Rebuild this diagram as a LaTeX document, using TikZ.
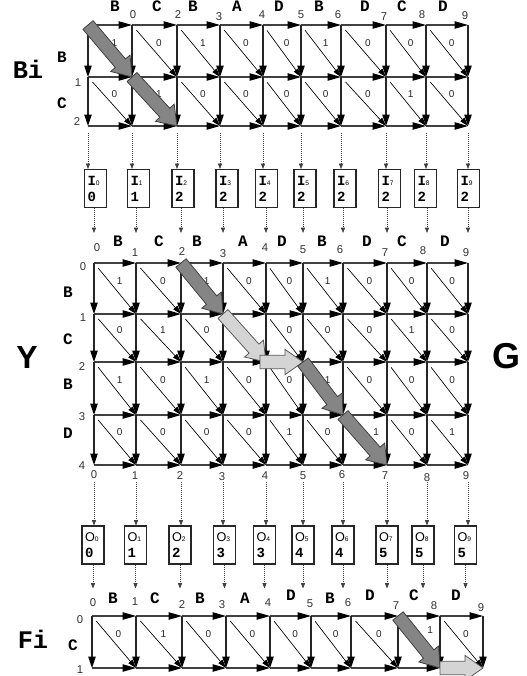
\documentclass[tikz,border=0pt]{standalone}
\usepackage{fontspec}
\setmainfont{Liberation Sans}
\newfontfamily\cour{Liberation Mono}
\usetikzlibrary{arrows.meta,calc}
\newcommand\bxfont{\cour\bfseries\fontsize{10.5}{12}\selectfont}
\newcommand\sbfont{\normalfont\mdseries\fontsize{5}{5}\selectfont}
\newcommand\ofont{\normalfont\fontsize{9.5}{12}\selectfont}
\newcommand\fatarrow[3]{%
  \coordinate (fa-n) at ($(#2)!13.5pt!(#1)$);
  \filldraw[#3] ($(#1)!5pt!90:(#2)$) -- ($(fa-n)!5pt!-90:(#1)$) -- ($(fa-n)!9.5pt!-90:(#1)$) -- (#2) -- ($(fa-n)!9.5pt!90:(#1)$) -- ($(fa-n)!5pt!90:(#1)$) -- ($(#1)!5pt!-90:(#2)$) -- cycle;}
\newcommand\gridedges[2]{%
  \foreach \i in {0,...,8} {\pgfmathtruncatemacro\n{\i+1}
    \foreach \j in {0,...,#2} \draw[hedge] (#1-\i-\j) -- (#1-\n-\j);}
  \foreach \i in {0,...,9} \foreach \j in {1,...,#2} {\pgfmathtruncatemacro\m{\j-1}
    \draw[vedge] (#1-\i-\m) -- (#1-\i-\j);}}
\newcommand\diagrow[3]{%
  \foreach \lab/\dx/\dy [count=\c from 0] in {#3} {\pgfmathtruncatemacro\n{\c+1}\pgfmathtruncatemacro\r{#2+1}
    \draw[dedge] (#1-\c-#2) -- node[elab,pos=0.45,xshift={(5+\dx)*1pt},yshift={(4+\dy)*1pt}] (lab-#1-\c-#2) {\lab} (#1-\n-\r);}}
\begin{document}
\begin{tikzpicture}[x=0.75pt,y=-0.75pt,
  hedge/.style={draw=black!75, line width=0.9pt, -{Triangle[length=10pt,width=5.5pt,color=black]}},
  vedge/.style={draw=black!85, line width=0.9pt, -{Triangle[length=8.5pt,width=5.5pt,color=black]}},
  dedge/.style={draw=black, line width=0.5pt, shorten <=5pt, -{Triangle[length=6.5pt,width=4pt,color=black]}},
  elab/.style={font=\fontsize{7.5}{8}\selectfont, inner sep=0pt, text=black!85},
  num/.style={font=\fontsize{8.5}{9}\selectfont, inner sep=0pt, text=black!80},
  seqlet/.style={font=\cour\bfseries\fontsize{12}{12}\selectfont, inner sep=0pt},
  bigsans/.style={font=\bfseries\fontsize{24}{24}\selectfont, inner sep=0pt},
  bigmono/.style={font=\cour\bfseries\fontsize{19}{19}\selectfont, inner sep=0pt},
  dotarr/.style={draw=black!75, line width=0.5pt, dash pattern=on 0.6pt off 0.9pt, -{Triangle[length=4pt,width=3pt]}},
  ibox/.style={draw=black!85, line width=0.8pt, minimum width=16.5pt, minimum height=28.5pt, text width=12pt, inner xsep=2.25pt, inner ysep=0pt, align=left, font=\fontsize{10.5}{12}\selectfont},
  darkarr/.style={fill=black!48, draw=black!75, line width=0.6pt},
  lightarr/.style={fill=black!17, draw=black!65, line width=0.6pt}]
\useasboundingbox (0,0) rectangle (526,676);

% grid points
\foreach \x [count=\i from 0] in {88,132,177,220,263,301,341,386,426,468}
  \foreach \y [count=\j from 0] in {25,77,126}
    \coordinate (T-\i-\j) at (\x,\y);
\foreach \x [count=\i from 0] in {94,136,181,223,266,303,343,387,427,468}
  \foreach \y [count=\j from 0] in {263,314,362,415,465}
    \coordinate (M-\i-\j) at (\x,\y);
\foreach \x [count=\i from 0] in {92,136,182,226,270,311,351,398,440,483}
  \foreach \y [count=\j from 0] in {616,668}
    \coordinate (F-\i-\j) at (\x,\y);

% diagonals
\diagrow{T}{0}{1/0/0,0/0/0,1/0/0,0/0/0,0/0/0,1/0/0,0/0/0,0/0/0,0/0/0}
\diagrow{T}{1}{0/0/0,1/0/0,0/0/0,0/0/0,0/0/0,0/0/0,0/0/0,1/0/0,0/0/0}
\diagrow{M}{0}{1/0/0,0/0/0,1/0/0,0/0/0,0/0/0,1/0/0,0/0/0,0/0/0,0/0/0}
\diagrow{M}{1}{0/0/0,1/0/0,0/0/0,{}/0/0,0/0/0,0/0/0,0/0/0,1/0/0,0/0/0}
\diagrow{M}{2}{1/0/0,0/0/0,1/0/0,0/0/0,0/0/0,1/0/0,0/0/0,0/0/0,0/0/0}
\diagrow{M}{3}{0/0/0,0/0/0,0/0/0,0/0/0,1/0/0,0/0/0,1/5/0,0/0/0,1/0/0}
\diagrow{F}{0}{0/0/0,1/0/0,0/0/0,0/0/0,0/0/0,0/0/0,0/0/0,1/5/3,0/0/0}

% horizontal and vertical edges
\gridedges{T}{2}
\gridedges{M}{4}
\gridedges{F}{1}

% boxes
\foreach \x/\v [count=\i from 0] in {95.5/0,138.5/1,183/2,227/2,266.5/2,305/2,345/2,389.5/2,425.5/2,468.5/2}
  \node[ibox] (I\i) at (\x,188.5) {{\bxfont I}{\sbfont\i}\\{\bxfont\v}};
\foreach \x/\v [count=\i from 0] in {93/0,135.5/1,180/2,224.5/3,264.5/3,303/4,343/4,387/5,423/5,465.5/5}
  \node[ibox] (O\i) at (\x,545) {{\ofont O}{\sbfont\i}\\{\bxfont\v}};

% dotted connectors
\foreach \i in {0,...,9} {
  \draw[dotarr] ([yshift=-5pt]T-\i-2) -- (T-\i-2 |- I\i.north);
  \coordinate (min\i) at ($(M-\i-0)+(0,-30)$);
  \draw[dotarr] (M-\i-0 |- I\i.south) -- (min\i);
  \coordinate (mout\i) at ($(M-\i-4)+(0,17)$);
  \draw[dotarr] (mout\i) -- (M-\i-4 |- O\i.north);
  \coordinate (fe\i) at ($(O\i.south)+(0,24)$);
  \draw[dotarr] (O\i.south) -- (fe\i);
}

% sequence letters
\foreach \t/\x [count=\k] in {B/115,C/157,B/193,A/237,D/279,B/319,D/365,C/402,D/443}
  \node[seqlet] (tl\k) at (\x,6) {\t};
\foreach \t/\x [count=\k] in {B/118,C/159,B/197,A/243,D/282,B/322,D/367,C/402,D/445}
  \node[seqlet] (ml\k) at (\x,241) {\t};
\foreach \t/\x/\y [count=\k] in {B/113/598,C/155/598,B/200/598,A/245/598,D/291/595,B/330/598,D/370/595,C/414/595,D/456/595}
  \node[seqlet] (fl\k) at (\x,\y) {\t};
\foreach \t/\x/\y [count=\k] in {B/62/57,C/62/103}
  \node[seqlet] (tr\k) at (\x,\y) {\t};
\foreach \t/\x/\y [count=\k] in {B/68/292,C/68/339,B/68/384,D/68/433}
  \node[seqlet] (mr\k) at (\x,\y) {\t};
\node[seqlet] (fr1) at (73,645) {C};

% index numbers
\foreach \t/\x/\y [count=\k] in {0/133/15,2/178/15,3/219/17,4/262/15,5/301/15,6/338/15,7/384/17,8/422/15,9/465/16}
  \node[num] (tn\k) at (\x,\y) {\t};
\foreach \t/\x/\y [count=\k] in {1/78/83,2/77/122}
  \node[num] (tv\k) at (\x,\y) {\t};
\foreach \t/\x/\y [count=\k] in {0/97/248,1/135/253,2/182/252,3/223/254,4/265/248,5/303/250,6/340/250,7/385/253,8/423/251,9/466/253}
  \node[num] (mn\k) at (\x,\y) {\t};
\foreach \t/\x/\y [count=\k] in {0/83/267,1/83/318,2/82/367,3/82/417,4/82/466}
  \node[num] (mv\k) at (\x,\y) {\t};
\foreach \t/\x/\y [count=\k] in {0/94/475,1/135/476,2/180/476,3/222/477,4/265/476,5/303/476,6/342/475,7/385/476,8/427/478,9/466/476}
  \node[num] (mb\k) at (\x,\y) {\t};
\foreach \t/\x/\y [count=\k] in {0/93/603,1/135/602,2/182/605,3/222/605,4/268/603,5/310/604,6/348/603,7/396/606,8/434/606,9/481/608}
  \node[num] (fn\k) at (\x,\y) {\t};
\foreach \t/\x/\y [count=\k] in {0/80/620,1/80/670}
  \node[num] (fv\k) at (\x,\y) {\t};

% big labels
\node[bigmono] (Bi) at (28,69) {Bi};
\node[bigmono] (Fi) at (33,639) {Fi};
\node[bigsans] (Y) at (27,357) {Y};
\node[bigsans, font=\bfseries\fontsize{27}{27}\selectfont] (G) at (506,356) {G};

% fat path arrows
\fatarrow{T-0-0}{T-1-1}{darkarr}
\fatarrow{T-1-1}{T-2-2}{darkarr}
\fatarrow{M-2-0}{M-3-1}{darkarr}
\fatarrow{M-3-1}{M-4-2}{lightarr}
\coordinate (lh) at ($(M-4-2)+(-6,0)$);
\fatarrow{lh}{M-5-2}{lightarr}
\fatarrow{M-5-2}{M-6-3}{darkarr}
\fatarrow{M-6-3}{M-7-4}{darkarr}
\fatarrow{F-7-0}{F-8-1}{darkarr}
\fatarrow{F-8-1}{F-9-1}{lightarr}
\end{tikzpicture}
\end{document}
